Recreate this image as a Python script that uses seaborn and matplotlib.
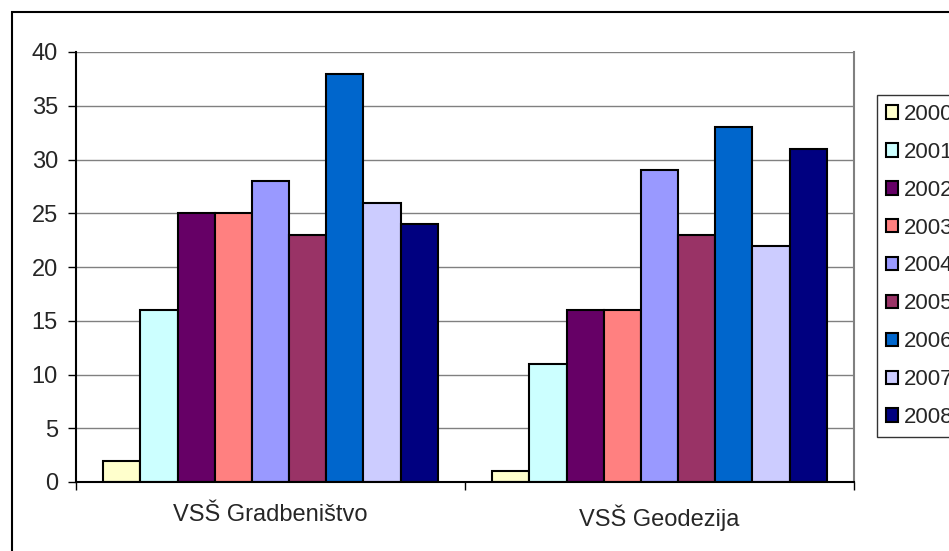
import pandas as pd
import numpy as np
import matplotlib.pyplot as plt
import seaborn as sns
from matplotlib.patches import Rectangle

categories = ["VSŠ Gradbeništvo", "VSŠ Geodezija"]
years = ["2000", "2001", "2002", "2003", "2004", "2005", "2006", "2007", "2008"]
gradbenistvo = [2, 16, 25, 25, 28, 23, 38, 26, 24]
geodezija = [1, 11, 16, 16, 29, 23, 33, 22, 31]
colors = ["#FFFFCC", "#CCFFFF", "#660066", "#FF8080", "#9999FF",
          "#993366", "#0066CC", "#CCCCFF", "#000080"]

df = pd.DataFrame({
    "category": [categories[0]] * len(years) + [categories[1]] * len(years),
    "year": years + years,
    "value": gradbenistvo + geodezija,
})

sns.set_style("white")
plt.rcParams['font.family'] = ['Liberation Sans', 'DejaVu Sans']

fig = plt.figure(figsize=(9.49, 5.51), dpi=100)
ax = fig.add_axes([76 / 949, 1 - 482 / 551, (854 - 76) / 949, (482 - 52) / 551])

sns.barplot(data=df, x="category", y="value", hue="year", palette=colors,
            width=0.86, gap=0, edgecolor="black", linewidth=1.5,
            saturation=1, ax=ax, legend=True)

ax.set_xlim(-0.5, 1.5)
ax.set_ylim(0, 40)
ax.set_yticks(np.arange(0, 41, 5))
ax.yaxis.grid(True, color="#808080", linewidth=1)
ax.set_axisbelow(True)
ax.set_xlabel("")
ax.set_ylabel("")
ax.tick_params(axis="y", labelsize=17, length=6, width=1, color="black",
               left=True, pad=7)
ax.tick_params(axis="x", which="major", labelsize=17, length=0, pad=16)
ax.set_xticks([-0.5, 0.5, 1.5], minor=True)
ax.tick_params(axis="x", which="minor", length=6, width=1, color="black",
               bottom=True)

for s in ["left", "bottom"]:
    ax.spines[s].set_color("black")
    ax.spines[s].set_linewidth(1.5)
ax.spines["right"].set_color("#808080")
ax.spines["right"].set_linewidth(1.5)
ax.spines["top"].set_visible(False)

handles, labels = ax.get_legend_handles_labels()
ax.legend_.remove()
leg = fig.legend(handles, labels, loc="upper left",
                 bbox_to_anchor=(877 / 949, 1 - 95 / 551),
                 fontsize=16, frameon=True, fancybox=False, edgecolor="black",
                 handlelength=0.55, handleheight=0.55, handletextpad=0.25,
                 labelspacing=0.76, borderpad=0.4, borderaxespad=0)
leg.get_frame().set_linewidth(1)

fig.patches.append(Rectangle((12 / 949, -0.1), 1.2, 0.1 + 1 - 12 / 551,
                             transform=fig.transFigure, fill=False,
                             edgecolor="black", linewidth=1.5, clip_on=False))

fig.savefig("out.png", dpi=100)
